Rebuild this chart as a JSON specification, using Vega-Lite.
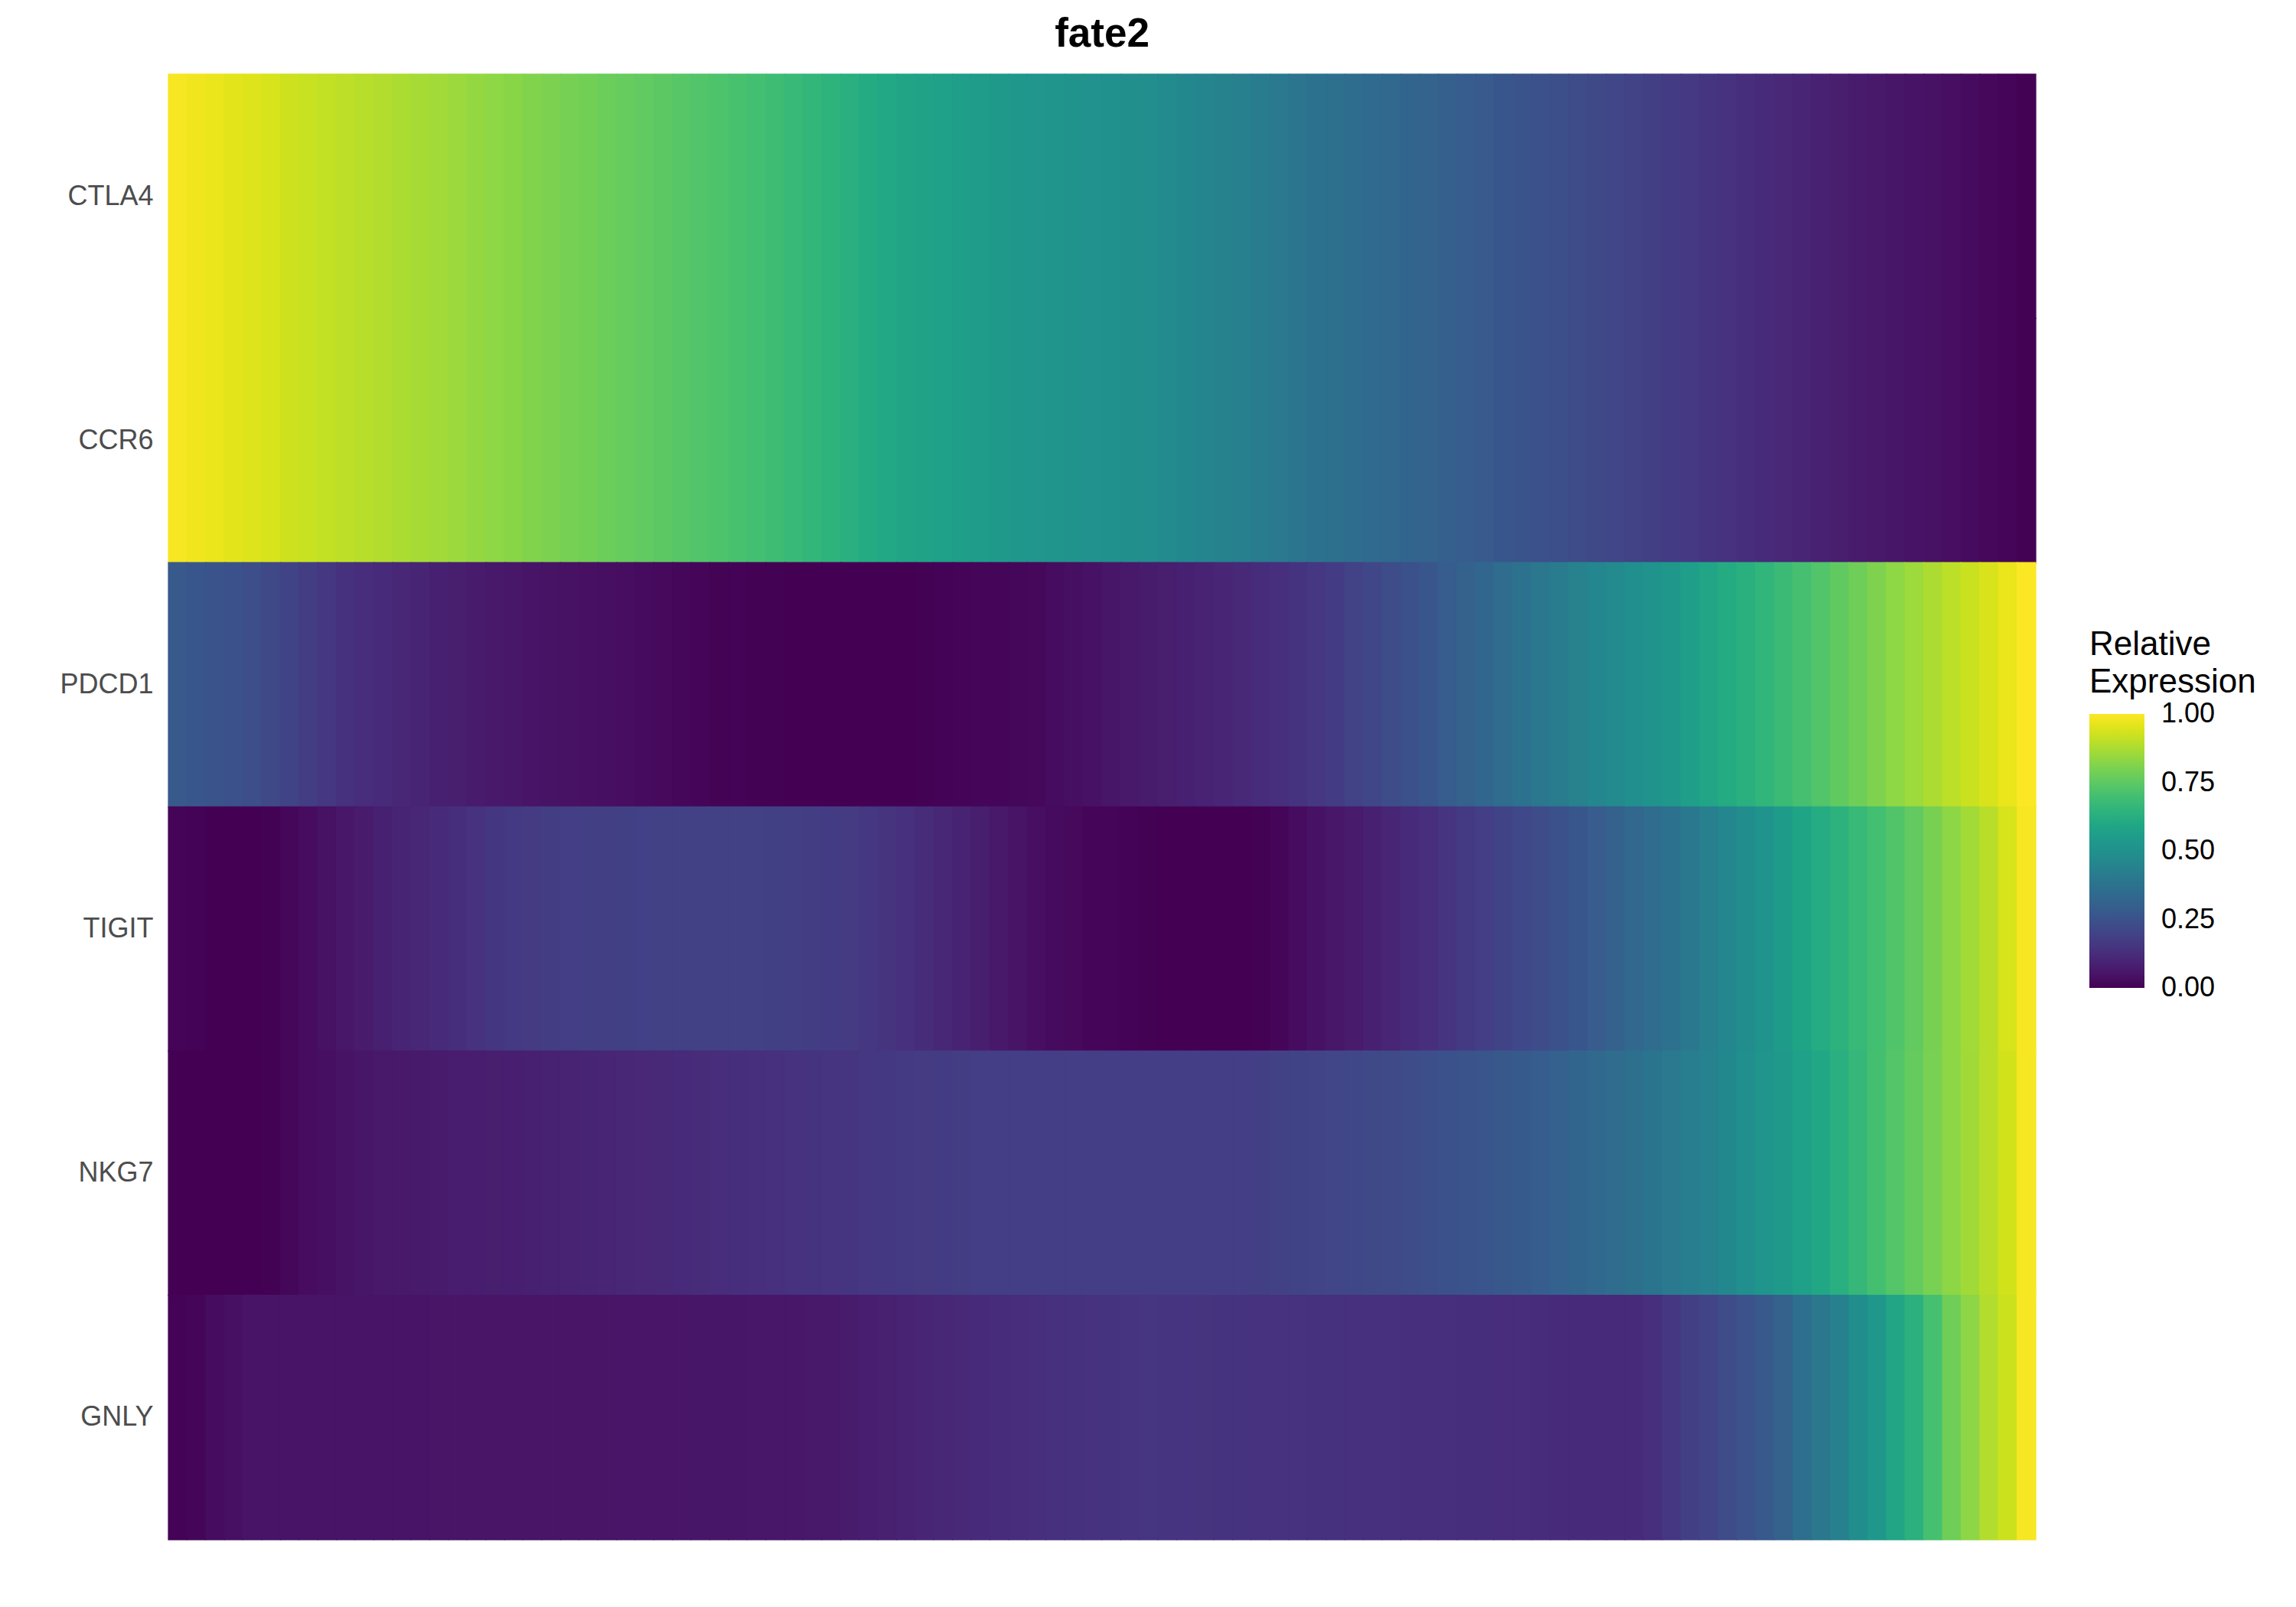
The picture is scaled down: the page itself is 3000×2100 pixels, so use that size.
{
"$schema": "https://vega.github.io/schema/vega-lite/v6.json",
"width": 2440, "height": 1915,
"autosize": "none",
"padding": {"left": 220, "top": 97, "right": 340, "bottom": 88},
"background": "white",
"title": {"text": "fate2", "fontSize": 53, "fontWeight": "bold", "font": "Liberation Sans", "color": "black", "anchor": "middle", "offset": 24},
"data": {"values": [
{"gene":"CTLA4","t":1,"v":0.99},{"gene":"CTLA4","t":2,"v":0.98},{"gene":"CTLA4","t":3,"v":0.97},{"gene":"CTLA4","t":4,"v":0.96},{"gene":"CTLA4","t":5,"v":0.95},{"gene":"CTLA4","t":6,"v":0.94},{"gene":"CTLA4","t":7,"v":0.926},{"gene":"CTLA4","t":8,"v":0.918},{"gene":"CTLA4","t":9,"v":0.909},{"gene":"CTLA4","t":10,"v":0.901},
{"gene":"CTLA4","t":11,"v":0.893},{"gene":"CTLA4","t":12,"v":0.885},{"gene":"CTLA4","t":13,"v":0.876},{"gene":"CTLA4","t":14,"v":0.868},{"gene":"CTLA4","t":15,"v":0.86},{"gene":"CTLA4","t":16,"v":0.851},{"gene":"CTLA4","t":17,"v":0.841},{"gene":"CTLA4","t":18,"v":0.832},{"gene":"CTLA4","t":19,"v":0.822},{"gene":"CTLA4","t":20,"v":0.813},
{"gene":"CTLA4","t":21,"v":0.803},{"gene":"CTLA4","t":22,"v":0.794},{"gene":"CTLA4","t":23,"v":0.785},{"gene":"CTLA4","t":24,"v":0.775},{"gene":"CTLA4","t":25,"v":0.766},{"gene":"CTLA4","t":26,"v":0.757},{"gene":"CTLA4","t":27,"v":0.748},{"gene":"CTLA4","t":28,"v":0.739},{"gene":"CTLA4","t":29,"v":0.73},{"gene":"CTLA4","t":30,"v":0.72},
{"gene":"CTLA4","t":31,"v":0.71},{"gene":"CTLA4","t":32,"v":0.70},{"gene":"CTLA4","t":33,"v":0.688},{"gene":"CTLA4","t":34,"v":0.675},{"gene":"CTLA4","t":35,"v":0.661},{"gene":"CTLA4","t":36,"v":0.646},{"gene":"CTLA4","t":37,"v":0.63},{"gene":"CTLA4","t":38,"v":0.614},{"gene":"CTLA4","t":39,"v":0.598},{"gene":"CTLA4","t":40,"v":0.585},
{"gene":"CTLA4","t":41,"v":0.574},{"gene":"CTLA4","t":42,"v":0.565},{"gene":"CTLA4","t":43,"v":0.557},{"gene":"CTLA4","t":44,"v":0.549},{"gene":"CTLA4","t":45,"v":0.541},{"gene":"CTLA4","t":46,"v":0.533},{"gene":"CTLA4","t":47,"v":0.525},{"gene":"CTLA4","t":48,"v":0.518},{"gene":"CTLA4","t":49,"v":0.512},{"gene":"CTLA4","t":50,"v":0.506},
{"gene":"CTLA4","t":51,"v":0.501},{"gene":"CTLA4","t":52,"v":0.495},{"gene":"CTLA4","t":53,"v":0.489},{"gene":"CTLA4","t":54,"v":0.479},{"gene":"CTLA4","t":55,"v":0.467},{"gene":"CTLA4","t":56,"v":0.454},{"gene":"CTLA4","t":57,"v":0.441},{"gene":"CTLA4","t":58,"v":0.428},{"gene":"CTLA4","t":59,"v":0.415},{"gene":"CTLA4","t":60,"v":0.402},
{"gene":"CTLA4","t":61,"v":0.389},{"gene":"CTLA4","t":62,"v":0.377},{"gene":"CTLA4","t":63,"v":0.365},{"gene":"CTLA4","t":64,"v":0.354},{"gene":"CTLA4","t":65,"v":0.343},{"gene":"CTLA4","t":66,"v":0.333},{"gene":"CTLA4","t":67,"v":0.322},{"gene":"CTLA4","t":68,"v":0.311},{"gene":"CTLA4","t":69,"v":0.3},{"gene":"CTLA4","t":70,"v":0.29},
{"gene":"CTLA4","t":71,"v":0.279},{"gene":"CTLA4","t":72,"v":0.268},{"gene":"CTLA4","t":73,"v":0.258},{"gene":"CTLA4","t":74,"v":0.247},{"gene":"CTLA4","t":75,"v":0.237},{"gene":"CTLA4","t":76,"v":0.226},{"gene":"CTLA4","t":77,"v":0.216},{"gene":"CTLA4","t":78,"v":0.205},{"gene":"CTLA4","t":79,"v":0.195},{"gene":"CTLA4","t":80,"v":0.184},
{"gene":"CTLA4","t":81,"v":0.174},{"gene":"CTLA4","t":82,"v":0.163},{"gene":"CTLA4","t":83,"v":0.152},{"gene":"CTLA4","t":84,"v":0.142},{"gene":"CTLA4","t":85,"v":0.131},{"gene":"CTLA4","t":86,"v":0.12},{"gene":"CTLA4","t":87,"v":0.11},{"gene":"CTLA4","t":88,"v":0.099},{"gene":"CTLA4","t":89,"v":0.089},{"gene":"CTLA4","t":90,"v":0.078},
{"gene":"CTLA4","t":91,"v":0.071},{"gene":"CTLA4","t":92,"v":0.063},{"gene":"CTLA4","t":93,"v":0.056},{"gene":"CTLA4","t":94,"v":0.048},{"gene":"CTLA4","t":95,"v":0.041},{"gene":"CTLA4","t":96,"v":0.033},{"gene":"CTLA4","t":97,"v":0.026},{"gene":"CTLA4","t":98,"v":0.018},{"gene":"CTLA4","t":99,"v":0.01},{"gene":"CTLA4","t":100,"v":0.003},
{"gene":"CCR6","t":1,"v":0.99},{"gene":"CCR6","t":2,"v":0.98},{"gene":"CCR6","t":3,"v":0.97},{"gene":"CCR6","t":4,"v":0.96},{"gene":"CCR6","t":5,"v":0.95},{"gene":"CCR6","t":6,"v":0.94},{"gene":"CCR6","t":7,"v":0.926},{"gene":"CCR6","t":8,"v":0.918},{"gene":"CCR6","t":9,"v":0.909},{"gene":"CCR6","t":10,"v":0.901},
{"gene":"CCR6","t":11,"v":0.893},{"gene":"CCR6","t":12,"v":0.885},{"gene":"CCR6","t":13,"v":0.876},{"gene":"CCR6","t":14,"v":0.868},{"gene":"CCR6","t":15,"v":0.86},{"gene":"CCR6","t":16,"v":0.851},{"gene":"CCR6","t":17,"v":0.841},{"gene":"CCR6","t":18,"v":0.832},{"gene":"CCR6","t":19,"v":0.822},{"gene":"CCR6","t":20,"v":0.813},
{"gene":"CCR6","t":21,"v":0.803},{"gene":"CCR6","t":22,"v":0.794},{"gene":"CCR6","t":23,"v":0.785},{"gene":"CCR6","t":24,"v":0.775},{"gene":"CCR6","t":25,"v":0.766},{"gene":"CCR6","t":26,"v":0.757},{"gene":"CCR6","t":27,"v":0.748},{"gene":"CCR6","t":28,"v":0.739},{"gene":"CCR6","t":29,"v":0.73},{"gene":"CCR6","t":30,"v":0.72},
{"gene":"CCR6","t":31,"v":0.71},{"gene":"CCR6","t":32,"v":0.70},{"gene":"CCR6","t":33,"v":0.688},{"gene":"CCR6","t":34,"v":0.675},{"gene":"CCR6","t":35,"v":0.661},{"gene":"CCR6","t":36,"v":0.646},{"gene":"CCR6","t":37,"v":0.63},{"gene":"CCR6","t":38,"v":0.614},{"gene":"CCR6","t":39,"v":0.598},{"gene":"CCR6","t":40,"v":0.585},
{"gene":"CCR6","t":41,"v":0.574},{"gene":"CCR6","t":42,"v":0.565},{"gene":"CCR6","t":43,"v":0.557},{"gene":"CCR6","t":44,"v":0.549},{"gene":"CCR6","t":45,"v":0.541},{"gene":"CCR6","t":46,"v":0.533},{"gene":"CCR6","t":47,"v":0.525},{"gene":"CCR6","t":48,"v":0.518},{"gene":"CCR6","t":49,"v":0.512},{"gene":"CCR6","t":50,"v":0.506},
{"gene":"CCR6","t":51,"v":0.501},{"gene":"CCR6","t":52,"v":0.495},{"gene":"CCR6","t":53,"v":0.489},{"gene":"CCR6","t":54,"v":0.479},{"gene":"CCR6","t":55,"v":0.467},{"gene":"CCR6","t":56,"v":0.454},{"gene":"CCR6","t":57,"v":0.441},{"gene":"CCR6","t":58,"v":0.428},{"gene":"CCR6","t":59,"v":0.415},{"gene":"CCR6","t":60,"v":0.402},
{"gene":"CCR6","t":61,"v":0.389},{"gene":"CCR6","t":62,"v":0.377},{"gene":"CCR6","t":63,"v":0.365},{"gene":"CCR6","t":64,"v":0.354},{"gene":"CCR6","t":65,"v":0.343},{"gene":"CCR6","t":66,"v":0.333},{"gene":"CCR6","t":67,"v":0.322},{"gene":"CCR6","t":68,"v":0.311},{"gene":"CCR6","t":69,"v":0.3},{"gene":"CCR6","t":70,"v":0.29},
{"gene":"CCR6","t":71,"v":0.279},{"gene":"CCR6","t":72,"v":0.268},{"gene":"CCR6","t":73,"v":0.258},{"gene":"CCR6","t":74,"v":0.247},{"gene":"CCR6","t":75,"v":0.237},{"gene":"CCR6","t":76,"v":0.226},{"gene":"CCR6","t":77,"v":0.216},{"gene":"CCR6","t":78,"v":0.205},{"gene":"CCR6","t":79,"v":0.195},{"gene":"CCR6","t":80,"v":0.184},
{"gene":"CCR6","t":81,"v":0.174},{"gene":"CCR6","t":82,"v":0.163},{"gene":"CCR6","t":83,"v":0.152},{"gene":"CCR6","t":84,"v":0.142},{"gene":"CCR6","t":85,"v":0.131},{"gene":"CCR6","t":86,"v":0.12},{"gene":"CCR6","t":87,"v":0.11},{"gene":"CCR6","t":88,"v":0.099},{"gene":"CCR6","t":89,"v":0.089},{"gene":"CCR6","t":90,"v":0.078},
{"gene":"CCR6","t":91,"v":0.071},{"gene":"CCR6","t":92,"v":0.063},{"gene":"CCR6","t":93,"v":0.056},{"gene":"CCR6","t":94,"v":0.048},{"gene":"CCR6","t":95,"v":0.041},{"gene":"CCR6","t":96,"v":0.033},{"gene":"CCR6","t":97,"v":0.026},{"gene":"CCR6","t":98,"v":0.018},{"gene":"CCR6","t":99,"v":0.01},{"gene":"CCR6","t":100,"v":0.003},
{"gene":"PDCD1","t":1,"v":0.275},{"gene":"PDCD1","t":2,"v":0.266},{"gene":"PDCD1","t":3,"v":0.257},{"gene":"PDCD1","t":4,"v":0.247},{"gene":"PDCD1","t":5,"v":0.235},{"gene":"PDCD1","t":6,"v":0.216},{"gene":"PDCD1","t":7,"v":0.196},{"gene":"PDCD1","t":8,"v":0.177},{"gene":"PDCD1","t":9,"v":0.158},{"gene":"PDCD1","t":10,"v":0.139},
{"gene":"PDCD1","t":11,"v":0.128},{"gene":"PDCD1","t":12,"v":0.117},{"gene":"PDCD1","t":13,"v":0.106},{"gene":"PDCD1","t":14,"v":0.096},{"gene":"PDCD1","t":15,"v":0.085},{"gene":"PDCD1","t":16,"v":0.078},{"gene":"PDCD1","t":17,"v":0.071},{"gene":"PDCD1","t":18,"v":0.064},{"gene":"PDCD1","t":19,"v":0.057},{"gene":"PDCD1","t":20,"v":0.05},
{"gene":"PDCD1","t":21,"v":0.046},{"gene":"PDCD1","t":22,"v":0.042},{"gene":"PDCD1","t":23,"v":0.039},{"gene":"PDCD1","t":24,"v":0.035},{"gene":"PDCD1","t":25,"v":0.031},{"gene":"PDCD1","t":26,"v":0.026},{"gene":"PDCD1","t":27,"v":0.021},{"gene":"PDCD1","t":28,"v":0.016},{"gene":"PDCD1","t":29,"v":0.011},{"gene":"PDCD1","t":30,"v":0.006},
{"gene":"PDCD1","t":31,"v":0.004},{"gene":"PDCD1","t":32,"v":0.003},{"gene":"PDCD1","t":33,"v":0.002},{"gene":"PDCD1","t":34,"v":0.001},{"gene":"PDCD1","t":35,"v":0},{"gene":"PDCD1","t":36,"v":0},{"gene":"PDCD1","t":37,"v":0},{"gene":"PDCD1","t":38,"v":0},{"gene":"PDCD1","t":39,"v":0},{"gene":"PDCD1","t":40,"v":0},
{"gene":"PDCD1","t":41,"v":0.002},{"gene":"PDCD1","t":42,"v":0.004},{"gene":"PDCD1","t":43,"v":0.007},{"gene":"PDCD1","t":44,"v":0.01},{"gene":"PDCD1","t":45,"v":0.013},{"gene":"PDCD1","t":46,"v":0.016},{"gene":"PDCD1","t":47,"v":0.019},{"gene":"PDCD1","t":48,"v":0.027},{"gene":"PDCD1","t":49,"v":0.036},{"gene":"PDCD1","t":50,"v":0.045},
{"gene":"PDCD1","t":51,"v":0.055},{"gene":"PDCD1","t":52,"v":0.064},{"gene":"PDCD1","t":53,"v":0.072},{"gene":"PDCD1","t":54,"v":0.079},{"gene":"PDCD1","t":55,"v":0.086},{"gene":"PDCD1","t":56,"v":0.094},{"gene":"PDCD1","t":57,"v":0.102},{"gene":"PDCD1","t":58,"v":0.112},{"gene":"PDCD1","t":59,"v":0.123},{"gene":"PDCD1","t":60,"v":0.133},
{"gene":"PDCD1","t":61,"v":0.144},{"gene":"PDCD1","t":62,"v":0.157},{"gene":"PDCD1","t":63,"v":0.174},{"gene":"PDCD1","t":64,"v":0.192},{"gene":"PDCD1","t":65,"v":0.209},{"gene":"PDCD1","t":66,"v":0.227},{"gene":"PDCD1","t":67,"v":0.247},{"gene":"PDCD1","t":68,"v":0.268},{"gene":"PDCD1","t":69,"v":0.289},{"gene":"PDCD1","t":70,"v":0.31},
{"gene":"PDCD1","t":71,"v":0.331},{"gene":"PDCD1","t":72,"v":0.352},{"gene":"PDCD1","t":73,"v":0.373},{"gene":"PDCD1","t":74,"v":0.394},{"gene":"PDCD1","t":75,"v":0.415},{"gene":"PDCD1","t":76,"v":0.436},{"gene":"PDCD1","t":77,"v":0.455},{"gene":"PDCD1","t":78,"v":0.475},{"gene":"PDCD1","t":79,"v":0.494},{"gene":"PDCD1","t":80,"v":0.513},
{"gene":"PDCD1","t":81,"v":0.535},{"gene":"PDCD1","t":82,"v":0.561},{"gene":"PDCD1","t":83,"v":0.587},{"gene":"PDCD1","t":84,"v":0.611},{"gene":"PDCD1","t":85,"v":0.634},{"gene":"PDCD1","t":86,"v":0.656},{"gene":"PDCD1","t":87,"v":0.68},{"gene":"PDCD1","t":88,"v":0.705},{"gene":"PDCD1","t":89,"v":0.73},{"gene":"PDCD1","t":90,"v":0.755},
{"gene":"PDCD1","t":91,"v":0.781},{"gene":"PDCD1","t":92,"v":0.807},{"gene":"PDCD1","t":93,"v":0.832},{"gene":"PDCD1","t":94,"v":0.855},{"gene":"PDCD1","t":95,"v":0.877},{"gene":"PDCD1","t":96,"v":0.9},{"gene":"PDCD1","t":97,"v":0.921},{"gene":"PDCD1","t":98,"v":0.943},{"gene":"PDCD1","t":99,"v":0.97},{"gene":"PDCD1","t":100,"v":0.997},
{"gene":"TIGIT","t":1,"v":0.008},{"gene":"TIGIT","t":2,"v":0.004},{"gene":"TIGIT","t":3,"v":0},{"gene":"TIGIT","t":4,"v":0},{"gene":"TIGIT","t":5,"v":0},{"gene":"TIGIT","t":6,"v":0.003},{"gene":"TIGIT","t":7,"v":0.015},{"gene":"TIGIT","t":8,"v":0.028},{"gene":"TIGIT","t":9,"v":0.042},{"gene":"TIGIT","t":10,"v":0.057},
{"gene":"TIGIT","t":11,"v":0.071},{"gene":"TIGIT","t":12,"v":0.084},{"gene":"TIGIT","t":13,"v":0.096},{"gene":"TIGIT","t":14,"v":0.108},{"gene":"TIGIT","t":15,"v":0.119},{"gene":"TIGIT","t":16,"v":0.13},{"gene":"TIGIT","t":17,"v":0.143},{"gene":"TIGIT","t":18,"v":0.155},{"gene":"TIGIT","t":19,"v":0.164},{"gene":"TIGIT","t":20,"v":0.169},
{"gene":"TIGIT","t":21,"v":0.175},{"gene":"TIGIT","t":22,"v":0.18},{"gene":"TIGIT","t":23,"v":0.182},{"gene":"TIGIT","t":24,"v":0.184},{"gene":"TIGIT","t":25,"v":0.186},{"gene":"TIGIT","t":26,"v":0.188},{"gene":"TIGIT","t":27,"v":0.19},{"gene":"TIGIT","t":28,"v":0.19},{"gene":"TIGIT","t":29,"v":0.19},{"gene":"TIGIT","t":30,"v":0.19},
{"gene":"TIGIT","t":31,"v":0.19},{"gene":"TIGIT","t":32,"v":0.19},{"gene":"TIGIT","t":33,"v":0.186},{"gene":"TIGIT","t":34,"v":0.182},{"gene":"TIGIT","t":35,"v":0.178},{"gene":"TIGIT","t":36,"v":0.174},{"gene":"TIGIT","t":37,"v":0.17},{"gene":"TIGIT","t":38,"v":0.159},{"gene":"TIGIT","t":39,"v":0.147},{"gene":"TIGIT","t":40,"v":0.135},
{"gene":"TIGIT","t":41,"v":0.122},{"gene":"TIGIT","t":42,"v":0.108},{"gene":"TIGIT","t":43,"v":0.093},{"gene":"TIGIT","t":44,"v":0.079},{"gene":"TIGIT","t":45,"v":0.064},{"gene":"TIGIT","t":46,"v":0.049},{"gene":"TIGIT","t":47,"v":0.034},{"gene":"TIGIT","t":48,"v":0.026},{"gene":"TIGIT","t":49,"v":0.02},{"gene":"TIGIT","t":50,"v":0.014},
{"gene":"TIGIT","t":51,"v":0.009},{"gene":"TIGIT","t":52,"v":0.005},{"gene":"TIGIT","t":53,"v":0.003},{"gene":"TIGIT","t":54,"v":0.001},{"gene":"TIGIT","t":55,"v":0},{"gene":"TIGIT","t":56,"v":0},{"gene":"TIGIT","t":57,"v":0},{"gene":"TIGIT","t":58,"v":0},{"gene":"TIGIT","t":59,"v":0.002},{"gene":"TIGIT","t":60,"v":0.01},
{"gene":"TIGIT","t":61,"v":0.029},{"gene":"TIGIT","t":62,"v":0.045},{"gene":"TIGIT","t":63,"v":0.058},{"gene":"TIGIT","t":64,"v":0.071},{"gene":"TIGIT","t":65,"v":0.085},{"gene":"TIGIT","t":66,"v":0.101},{"gene":"TIGIT","t":67,"v":0.117},{"gene":"TIGIT","t":68,"v":0.133},{"gene":"TIGIT","t":69,"v":0.149},{"gene":"TIGIT","t":70,"v":0.165},
{"gene":"TIGIT","t":71,"v":0.181},{"gene":"TIGIT","t":72,"v":0.197},{"gene":"TIGIT","t":73,"v":0.213},{"gene":"TIGIT","t":74,"v":0.228},{"gene":"TIGIT","t":75,"v":0.247},{"gene":"TIGIT","t":76,"v":0.267},{"gene":"TIGIT","t":77,"v":0.286},{"gene":"TIGIT","t":78,"v":0.307},{"gene":"TIGIT","t":79,"v":0.329},{"gene":"TIGIT","t":80,"v":0.351},
{"gene":"TIGIT","t":81,"v":0.375},{"gene":"TIGIT","t":82,"v":0.401},{"gene":"TIGIT","t":83,"v":0.427},{"gene":"TIGIT","t":84,"v":0.455},{"gene":"TIGIT","t":85,"v":0.484},{"gene":"TIGIT","t":86,"v":0.513},{"gene":"TIGIT","t":87,"v":0.545},{"gene":"TIGIT","t":88,"v":0.583},{"gene":"TIGIT","t":89,"v":0.615},{"gene":"TIGIT","t":90,"v":0.645},
{"gene":"TIGIT","t":91,"v":0.673},{"gene":"TIGIT","t":92,"v":0.7},{"gene":"TIGIT","t":93,"v":0.727},{"gene":"TIGIT","t":94,"v":0.759},{"gene":"TIGIT","t":95,"v":0.796},{"gene":"TIGIT","t":96,"v":0.83},{"gene":"TIGIT","t":97,"v":0.862},{"gene":"TIGIT","t":98,"v":0.895},{"gene":"TIGIT","t":99,"v":0.941},{"gene":"TIGIT","t":100,"v":0.99},
{"gene":"NKG7","t":1,"v":0},{"gene":"NKG7","t":2,"v":0},{"gene":"NKG7","t":3,"v":0},{"gene":"NKG7","t":4,"v":0},{"gene":"NKG7","t":5,"v":0},{"gene":"NKG7","t":6,"v":0.003},{"gene":"NKG7","t":7,"v":0.015},{"gene":"NKG7","t":8,"v":0.028},{"gene":"NKG7","t":9,"v":0.037},{"gene":"NKG7","t":10,"v":0.046},
{"gene":"NKG7","t":11,"v":0.055},{"gene":"NKG7","t":12,"v":0.061},{"gene":"NKG7","t":13,"v":0.064},{"gene":"NKG7","t":14,"v":0.067},{"gene":"NKG7","t":15,"v":0.07},{"gene":"NKG7","t":16,"v":0.073},{"gene":"NKG7","t":17,"v":0.076},{"gene":"NKG7","t":18,"v":0.079},{"gene":"NKG7","t":19,"v":0.082},{"gene":"NKG7","t":20,"v":0.086},
{"gene":"NKG7","t":21,"v":0.09},{"gene":"NKG7","t":22,"v":0.094},{"gene":"NKG7","t":23,"v":0.098},{"gene":"NKG7","t":24,"v":0.102},{"gene":"NKG7","t":25,"v":0.106},{"gene":"NKG7","t":26,"v":0.11},{"gene":"NKG7","t":27,"v":0.114},{"gene":"NKG7","t":28,"v":0.118},{"gene":"NKG7","t":29,"v":0.122},{"gene":"NKG7","t":30,"v":0.126},
{"gene":"NKG7","t":31,"v":0.13},{"gene":"NKG7","t":32,"v":0.133},{"gene":"NKG7","t":33,"v":0.137},{"gene":"NKG7","t":34,"v":0.141},{"gene":"NKG7","t":35,"v":0.145},{"gene":"NKG7","t":36,"v":0.149},{"gene":"NKG7","t":37,"v":0.153},{"gene":"NKG7","t":38,"v":0.157},{"gene":"NKG7","t":39,"v":0.161},{"gene":"NKG7","t":40,"v":0.165},
{"gene":"NKG7","t":41,"v":0.169},{"gene":"NKG7","t":42,"v":0.173},{"gene":"NKG7","t":43,"v":0.177},{"gene":"NKG7","t":44,"v":0.18},{"gene":"NKG7","t":45,"v":0.18},{"gene":"NKG7","t":46,"v":0.18},{"gene":"NKG7","t":47,"v":0.18},{"gene":"NKG7","t":48,"v":0.18},{"gene":"NKG7","t":49,"v":0.18},{"gene":"NKG7","t":50,"v":0.18},
{"gene":"NKG7","t":51,"v":0.18},{"gene":"NKG7","t":52,"v":0.18},{"gene":"NKG7","t":53,"v":0.18},{"gene":"NKG7","t":54,"v":0.18},{"gene":"NKG7","t":55,"v":0.18},{"gene":"NKG7","t":56,"v":0.18},{"gene":"NKG7","t":57,"v":0.18},{"gene":"NKG7","t":58,"v":0.18},{"gene":"NKG7","t":59,"v":0.184},{"gene":"NKG7","t":60,"v":0.19},
{"gene":"NKG7","t":61,"v":0.196},{"gene":"NKG7","t":62,"v":0.202},{"gene":"NKG7","t":63,"v":0.206},{"gene":"NKG7","t":64,"v":0.21},{"gene":"NKG7","t":65,"v":0.215},{"gene":"NKG7","t":66,"v":0.219},{"gene":"NKG7","t":67,"v":0.228},{"gene":"NKG7","t":68,"v":0.237},{"gene":"NKG7","t":69,"v":0.246},{"gene":"NKG7","t":70,"v":0.255},
{"gene":"NKG7","t":71,"v":0.264},{"gene":"NKG7","t":72,"v":0.272},{"gene":"NKG7","t":73,"v":0.281},{"gene":"NKG7","t":74,"v":0.289},{"gene":"NKG7","t":75,"v":0.305},{"gene":"NKG7","t":76,"v":0.321},{"gene":"NKG7","t":77,"v":0.337},{"gene":"NKG7","t":78,"v":0.352},{"gene":"NKG7","t":79,"v":0.368},{"gene":"NKG7","t":80,"v":0.384},
{"gene":"NKG7","t":81,"v":0.402},{"gene":"NKG7","t":82,"v":0.421},{"gene":"NKG7","t":83,"v":0.44},{"gene":"NKG7","t":84,"v":0.464},{"gene":"NKG7","t":85,"v":0.492},{"gene":"NKG7","t":86,"v":0.52},{"gene":"NKG7","t":87,"v":0.543},{"gene":"NKG7","t":88,"v":0.565},{"gene":"NKG7","t":89,"v":0.595},{"gene":"NKG7","t":90,"v":0.628},
{"gene":"NKG7","t":91,"v":0.668},{"gene":"NKG7","t":92,"v":0.702},{"gene":"NKG7","t":93,"v":0.733},{"gene":"NKG7","t":94,"v":0.764},{"gene":"NKG7","t":95,"v":0.797},{"gene":"NKG7","t":96,"v":0.83},{"gene":"NKG7","t":97,"v":0.861},{"gene":"NKG7","t":98,"v":0.895},{"gene":"NKG7","t":99,"v":0.932},{"gene":"NKG7","t":100,"v":0.99},
{"gene":"GNLY","t":1,"v":0.004},{"gene":"GNLY","t":2,"v":0.014},{"gene":"GNLY","t":3,"v":0.027},{"gene":"GNLY","t":4,"v":0.04},{"gene":"GNLY","t":5,"v":0.05},{"gene":"GNLY","t":6,"v":0.05},{"gene":"GNLY","t":7,"v":0.05},{"gene":"GNLY","t":8,"v":0.05},{"gene":"GNLY","t":9,"v":0.05},{"gene":"GNLY","t":10,"v":0.051},
{"gene":"GNLY","t":11,"v":0.051},{"gene":"GNLY","t":12,"v":0.051},{"gene":"GNLY","t":13,"v":0.051},{"gene":"GNLY","t":14,"v":0.051},{"gene":"GNLY","t":15,"v":0.052},{"gene":"GNLY","t":16,"v":0.052},{"gene":"GNLY","t":17,"v":0.052},{"gene":"GNLY","t":18,"v":0.052},{"gene":"GNLY","t":19,"v":0.052},{"gene":"GNLY","t":20,"v":0.053},
{"gene":"GNLY","t":21,"v":0.053},{"gene":"GNLY","t":22,"v":0.053},{"gene":"GNLY","t":23,"v":0.053},{"gene":"GNLY","t":24,"v":0.053},{"gene":"GNLY","t":25,"v":0.054},{"gene":"GNLY","t":26,"v":0.054},{"gene":"GNLY","t":27,"v":0.054},{"gene":"GNLY","t":28,"v":0.054},{"gene":"GNLY","t":29,"v":0.055},{"gene":"GNLY","t":30,"v":0.055},
{"gene":"GNLY","t":31,"v":0.056},{"gene":"GNLY","t":32,"v":0.057},{"gene":"GNLY","t":33,"v":0.058},{"gene":"GNLY","t":34,"v":0.059},{"gene":"GNLY","t":35,"v":0.06},{"gene":"GNLY","t":36,"v":0.065},{"gene":"GNLY","t":37,"v":0.072},{"gene":"GNLY","t":38,"v":0.08},{"gene":"GNLY","t":39,"v":0.087},{"gene":"GNLY","t":40,"v":0.094},
{"gene":"GNLY","t":41,"v":0.1},{"gene":"GNLY","t":42,"v":0.107},{"gene":"GNLY","t":43,"v":0.114},{"gene":"GNLY","t":44,"v":0.12},{"gene":"GNLY","t":45,"v":0.124},{"gene":"GNLY","t":46,"v":0.128},{"gene":"GNLY","t":47,"v":0.132},{"gene":"GNLY","t":48,"v":0.136},{"gene":"GNLY","t":49,"v":0.14},{"gene":"GNLY","t":50,"v":0.143},
{"gene":"GNLY","t":51,"v":0.145},{"gene":"GNLY","t":52,"v":0.148},{"gene":"GNLY","t":53,"v":0.15},{"gene":"GNLY","t":54,"v":0.149},{"gene":"GNLY","t":55,"v":0.148},{"gene":"GNLY","t":56,"v":0.147},{"gene":"GNLY","t":57,"v":0.145},{"gene":"GNLY","t":58,"v":0.144},{"gene":"GNLY","t":59,"v":0.143},{"gene":"GNLY","t":60,"v":0.142},
{"gene":"GNLY","t":61,"v":0.141},{"gene":"GNLY","t":62,"v":0.14},{"gene":"GNLY","t":63,"v":0.139},{"gene":"GNLY","t":64,"v":0.137},{"gene":"GNLY","t":65,"v":0.136},{"gene":"GNLY","t":66,"v":0.135},{"gene":"GNLY","t":67,"v":0.134},{"gene":"GNLY","t":68,"v":0.133},{"gene":"GNLY","t":69,"v":0.132},{"gene":"GNLY","t":70,"v":0.131},
{"gene":"GNLY","t":71,"v":0.13},{"gene":"GNLY","t":72,"v":0.128},{"gene":"GNLY","t":73,"v":0.126},{"gene":"GNLY","t":74,"v":0.124},{"gene":"GNLY","t":75,"v":0.121},{"gene":"GNLY","t":76,"v":0.12},{"gene":"GNLY","t":77,"v":0.12},{"gene":"GNLY","t":78,"v":0.12},{"gene":"GNLY","t":79,"v":0.12},{"gene":"GNLY","t":80,"v":0.134},
{"gene":"GNLY","t":81,"v":0.158},{"gene":"GNLY","t":82,"v":0.182},{"gene":"GNLY","t":83,"v":0.204},{"gene":"GNLY","t":84,"v":0.227},{"gene":"GNLY","t":85,"v":0.249},{"gene":"GNLY","t":86,"v":0.275},{"gene":"GNLY","t":87,"v":0.31},{"gene":"GNLY","t":88,"v":0.36},{"gene":"GNLY","t":89,"v":0.395},{"gene":"GNLY","t":90,"v":0.431},
{"gene":"GNLY","t":91,"v":0.484},{"gene":"GNLY","t":92,"v":0.535},{"gene":"GNLY","t":93,"v":0.589},{"gene":"GNLY","t":94,"v":0.64},{"gene":"GNLY","t":95,"v":0.703},{"gene":"GNLY","t":96,"v":0.78},{"gene":"GNLY","t":97,"v":0.83},{"gene":"GNLY","t":98,"v":0.885},{"gene":"GNLY","t":99,"v":0.924},{"gene":"GNLY","t":100,"v":0.99}
]},
"mark": {"type": "rect", "width": {"band": 1.05}, "height": {"band": 1.005}},
"encoding": {
  "x": {"field": "t", "type": "ordinal", "axis": null, "scale": {"paddingInner": 0, "paddingOuter": 0}},
  "y": {"field": "gene", "type": "nominal", "sort": ["CTLA4","CCR6","PDCD1","TIGIT","NKG7","GNLY"], "scale": {"paddingInner": 0, "paddingOuter": 0},
        "axis": {"title": null, "ticks": false, "domain": false, "grid": false, "labelFontSize": 36, "labelColor": "#4d4d4d", "labelFont": "Liberation Sans", "labelPadding": 20}},
  "color": {"field": "v", "type": "quantitative", "scale": {"scheme": "viridis", "domain": [0, 1]},
        "legend": {"type": "gradient", "orient": "none", "legendX": 2510, "legendY": 724, "direction": "vertical",
                   "title": ["Relative", "Expression"], "titleFontSize": 44, "titleFontWeight": "normal", "titleColor": "black", "titleFont": "Liberation Sans", "titleLineHeight": 49, "titlePadding": 19, "titleLimit": 500,
                   "gradientLength": 358, "gradientThickness": 72, "gradientStrokeWidth": 0,
                   "labelFontSize": 36, "labelColor": "black", "labelFont": "Liberation Sans", "labelOffset": 22, "labelOverlap": false,
                   "values": [0.001, 0.25, 0.5, 0.75, 0.999], "format": ".2f"}}
},
"config": {"view": {"stroke": null}}
}
